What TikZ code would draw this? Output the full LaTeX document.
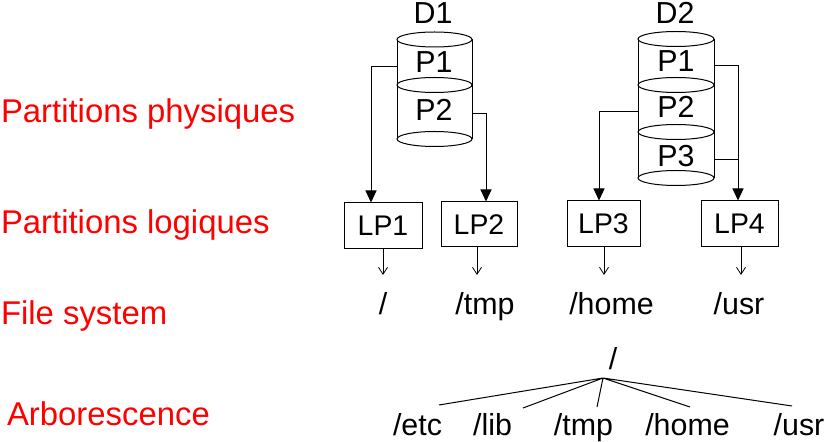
\documentclass[tikz,border=0pt]{standalone}
\usepackage{fontspec}
\setmainfont{Liberation Sans}
\usetikzlibrary{arrows.meta}
\definecolor{lblred}{RGB}{255,0,0}
\begin{document}
\begin{tikzpicture}[x=1bp,y=-1bp,line width=1bp,
  txt/.style={inner sep=0pt,font=\fontsize{30.5}{36}\selectfont,anchor=base},
  redlbl/.style={inner sep=0pt,font=\fontsize{33}{40}\selectfont,text=lblred,anchor=base west},
  lpbox/.style={draw,inner sep=0pt,minimum height=46bp,font=\fontsize{28.5}{34}\selectfont},
  arr/.style={-{Triangle[width=11bp,length=12bp]}},
  smallarr/.style={-{Straight Barb[width=9bp,length=7bp,line width=0.8bp]}},
  disk/.style={line width=1bp}]
\useasboundingbox (0,0) rectangle (830,442);
% red labels
\node[redlbl] (rl1) at (0.5,123) {Partitions physiques};
\node[redlbl] (rl2) at (0.5,234) {Partitions logiques};
\node[redlbl] (rl3) at (0.5,325) {File system};
\node[redlbl] (rl4) at (6.5,425) {Arborescence};
% disk D1
\node[txt] (d1) at (433,24) {D1};
\draw[disk] (397,39.5) -- (397,139) (472,39.5) -- (472,139);
\draw[disk,fill=white] (434.5,39.5) ellipse [x radius=37.5bp, y radius=7.5bp];
\draw[disk] (434.5,85) ellipse [x radius=37.5bp, y radius=7.5bp];
\draw[disk] (434.5,139) ellipse [x radius=37.5bp, y radius=7.5bp];
\node[txt] (d1p1) at (434,73) {P1};
\node[txt] (d1p2) at (434,121) {P2};
\coordinate (d1p1w) at (397,67);
\coordinate (d1p2e) at (472,114);
% disk D2
\node[txt] (d2) at (675,24) {D2};
\draw[disk] (638,39) -- (638,178) (714,39) -- (714,178);
\draw[disk] (676,39) ellipse [x radius=38bp, y radius=7.5bp];
\draw[disk] (676,85) ellipse [x radius=38bp, y radius=7.5bp];
\draw[disk] (676,132) ellipse [x radius=38bp, y radius=7.5bp];
\draw[disk] (676,178) ellipse [x radius=38bp, y radius=7.5bp];
\node[txt] (d2p1) at (676,72) {P1};
\node[txt] (d2p2) at (676,118) {P2};
\node[txt] (d2p3) at (676,167) {P3};
\coordinate (d2p1e) at (714,66);
\coordinate (d2p2w) at (638,112);
\coordinate (d2p3e) at (714,160);
% logical partitions
\node[lpbox,minimum width=78bp] (lp1) at (383,226) {LP1};
\node[lpbox,minimum width=76bp,minimum height=45bp] (lp2) at (479,224.5) {LP2};
\node[lpbox,minimum width=73bp] (lp3) at (603.5,224) {LP3};
\node[lpbox,minimum width=77bp] (lp4) at (739.5,224) {LP4};
\coordinate (lp1in) at ([xshift=-12bp]lp1.north);
\coordinate (lp2in) at ([xshift=7bp]lp2.north);
\coordinate (lp3in) at ([xshift=-4.5bp]lp3.north);
\coordinate (lp4in) at ([xshift=-1.5bp]lp4.north);
% arrows disks -> LPs
\draw[arr] (d1p1w) -| (lp1in);
\draw[arr] (d1p2e) -| (lp2in);
\draw[arr] (d2p2w) -| (lp3in);
\draw[arr] (d2p1e) -| (lp4in);
\draw (d2p3e) -- (d2p3e -| lp4in);
% file system row
\node[txt] (fs1) at (383,315) {/};
\node[txt] (fs2) at (485,315) {/tmp};
\node[txt] (fs3) at (611.5,315) {/home};
\node[txt] (fs4) at (739,315) {/usr};
\coordinate (fsrow) at (0,275);
\coordinate (lp1out) at (lp1.south);
\coordinate (lp2out) at ([xshift=-2bp]lp2.south);
\coordinate (lp3out) at ([xshift=0.5bp]lp3.south);
\coordinate (lp4out) at ([xshift=1.5bp]lp4.south);
\draw[smallarr] (lp1out) -- (lp1out |- fsrow);
\draw[smallarr] (lp2out) -- (lp2out |- fsrow);
\draw[smallarr] (lp3out) -- (lp3out |- fsrow);
\draw[smallarr] (lp4out) -- (lp4out |- fsrow);
% tree
\node[txt] (root) at (613,370) {/};
\coordinate (apex) at (603,378);
\node[txt] (etc) at (417.5,435) {/etc};
\node[txt] (lib) at (492.5,435) {/lib};
\node[txt] (tmp) at (583.5,435) {/tmp};
\node[txt] (home) at (687.5,435) {/home};
\node[txt] (usr) at (799,435) {/usr};
\coordinate (cetc) at (439,405);
\coordinate (clib) at (523,408);
\coordinate (ctmp) at (597,407);
\coordinate (chome) at (690,407);
\coordinate (cusr) at (792,406);
\draw (apex) -- (cetc) (apex) -- (clib) (apex) -- (ctmp) (apex) -- (chome) (apex) -- (cusr);
\end{tikzpicture}
\end{document}
